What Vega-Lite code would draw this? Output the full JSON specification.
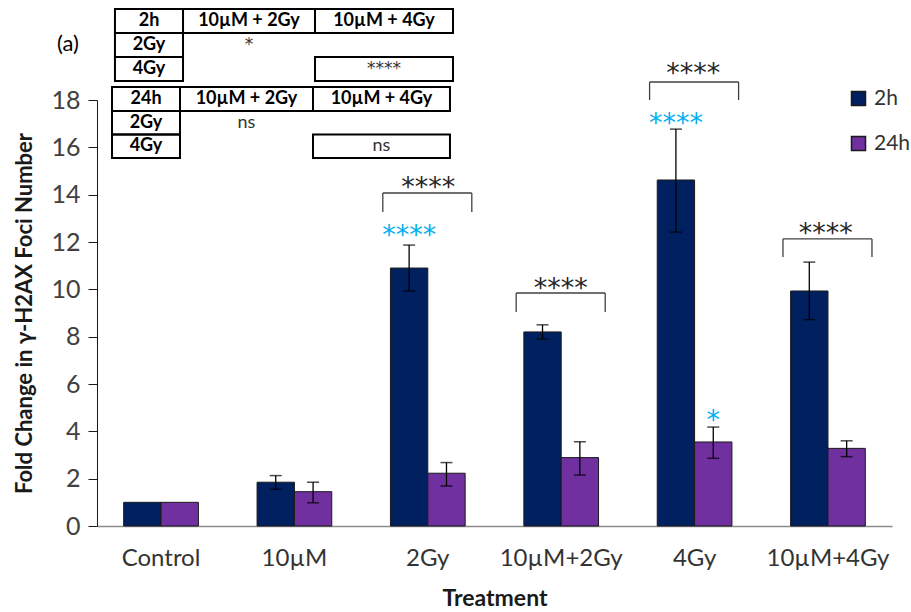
{
  "$schema": "https://vega.github.io/schema/vega-lite/v6.json",
  "width": 795,
  "height": 426,
  "autosize": "none",
  "padding": {"left": 97, "top": 100, "right": 19, "bottom": 86},
  "background": "white",
  "config": {"font": "Lato", "view": {"stroke": null}},
  "datasets": {
    "bars": [
      {"cat": "Control", "time": "2h", "value": 1.0},
      {"cat": "Control", "time": "24h", "value": 1.0},
      {"cat": "10µM", "time": "2h", "value": 1.85},
      {"cat": "10µM", "time": "24h", "value": 1.45},
      {"cat": "2Gy", "time": "2h", "value": 10.9},
      {"cat": "2Gy", "time": "24h", "value": 2.23},
      {"cat": "10µM+2Gy", "time": "2h", "value": 8.2},
      {"cat": "10µM+2Gy", "time": "24h", "value": 2.89},
      {"cat": "4Gy", "time": "2h", "value": 14.62},
      {"cat": "4Gy", "time": "24h", "value": 3.55},
      {"cat": "10µM+4Gy", "time": "2h", "value": 9.93},
      {"cat": "10µM+4Gy", "time": "24h", "value": 3.28}
    ],
    "errors": [
      {"cat": "10µM", "time": "2h", "lo": 1.55, "hi": 2.13},
      {"cat": "10µM", "time": "24h", "lo": 0.98, "hi": 1.85},
      {"cat": "2Gy", "time": "2h", "lo": 9.93, "hi": 11.87},
      {"cat": "2Gy", "time": "24h", "lo": 1.69, "hi": 2.68},
      {"cat": "10µM+2Gy", "time": "2h", "lo": 7.9, "hi": 8.5},
      {"cat": "10µM+2Gy", "time": "24h", "lo": 2.15, "hi": 3.56},
      {"cat": "4Gy", "time": "2h", "lo": 12.42, "hi": 16.77},
      {"cat": "4Gy", "time": "24h", "lo": 2.86, "hi": 4.18},
      {"cat": "10µM+4Gy", "time": "2h", "lo": 8.72, "hi": 11.15},
      {"cat": "10µM+4Gy", "time": "24h", "lo": 2.93, "hi": 3.6}
    ],
    "brackets": [
      {"cat": "2Gy", "top": 14.07, "bot": 13.27, "label": "****", "ylab": 13.94},
      {"cat": "10µM+2Gy", "top": 9.845, "bot": 9.04, "label": "****", "ylab": 9.68},
      {"cat": "4Gy", "top": 18.76, "bot": 18.0, "label": "****", "ylab": 18.76},
      {"cat": "10µM+4Gy", "top": 12.13, "bot": 11.37, "label": "****", "ylab": 12.0}
    ],
    "blue": [
      {"cat": "2Gy", "time": "2h", "label": "****", "ylab": 11.92},
      {"cat": "4Gy", "time": "2h", "label": "****", "ylab": 16.65},
      {"cat": "4Gy", "time": "24h", "label": "*", "ylab": 4.1}
    ],
    "cells": [
      {"x1": 2.26, "x2": 10.82, "y1": 21.845, "y2": 20.831},
      {"x1": 10.82, "x2": 27.42, "y1": 21.845, "y2": 20.831},
      {"x1": 27.42, "x2": 44.78, "y1": 21.845, "y2": 20.831},
      {"x1": 2.26, "x2": 10.82, "y1": 20.831, "y2": 19.817},
      {"x1": 2.26, "x2": 10.82, "y1": 19.817, "y2": 18.803},
      {"x1": 27.42, "x2": 44.78, "y1": 19.817, "y2": 18.803},
      {"x1": 1.89, "x2": 10.44, "y1": 18.549, "y2": 17.535},
      {"x1": 10.44, "x2": 27.17, "y1": 18.549, "y2": 17.535},
      {"x1": 27.17, "x2": 44.4, "y1": 18.549, "y2": 17.535},
      {"x1": 1.89, "x2": 10.44, "y1": 17.535, "y2": 16.542},
      {"x1": 1.89, "x2": 10.44, "y1": 16.542, "y2": 15.549},
      {"x1": 27.17, "x2": 44.4, "y1": 16.542, "y2": 15.549}
    ],
    "headers": [
      {"x": 6.54, "y": 21.338, "label": "2h"},
      {"x": 19.12, "y": 21.338, "label": "10µM + 2Gy"},
      {"x": 36.1, "y": 21.338, "label": "10µM + 4Gy"},
      {"x": 6.54, "y": 20.324, "label": "2Gy"},
      {"x": 6.54, "y": 19.31, "label": "4Gy"},
      {"x": 6.165, "y": 18.042, "label": "24h"},
      {"x": 18.805, "y": 18.042, "label": "10µM + 2Gy"},
      {"x": 35.785, "y": 18.042, "label": "10µM + 4Gy"},
      {"x": 6.165, "y": 17.038, "label": "2Gy"},
      {"x": 6.165, "y": 16.045, "label": "4Gy"}
    ],
    "body": [
      {"x": 18.805, "y": 17.038, "label": "ns"},
      {"x": 35.785, "y": 16.045, "label": "ns"}
    ],
    "stars": [
      {"x": 19.12, "y": 20.324, "label": "*"},
      {"x": 36.1, "y": 19.31, "label": "****"}
    ],
    "panel": [
      {"x": -3.65, "y": 20.37, "label": "(a)"}
    ]
  },
  "layer": [
    {
      "data": {"name": "bars"},
      "mark": {"type": "bar", "stroke": "#1a1a1a", "strokeWidth": 1},
      "encoding": {
        "x": {
          "field": "cat", "type": "nominal",
          "scale": {"domain": ["Control", "10µM", "2Gy", "10µM+2Gy", "4Gy", "10µM+4Gy"], "paddingInner": 0.44, "paddingOuter": 0.2},
          "axis": {"title": "Treatment", "labelAngle": 0, "ticks": false, "domainColor": "#8c8c8c", "domainWidth": 1.5, "labelFontSize": 24, "labelColor": "#333333", "labelPadding": 20, "titleFontSize": 23, "titleFontWeight": "bold", "titlePadding": 17, "titleColor": "#1a1a1a"}
        },
        "xOffset": {"field": "time", "type": "nominal", "scale": {"domain": ["2h", "24h"], "paddingInner": 0, "paddingOuter": 0}},
        "y": {
          "field": "value", "type": "quantitative",
          "scale": {"domain": [0, 18], "nice": false},
          "axis": {"values": [0, 2, 4, 6, 8, 10, 12, 14, 16, 18], "title": "Fold Change in γ-H2AX Foci Number", "titleFontSize": 22, "titleFontWeight": "bold", "titleColor": "#1a1a1a", "labelFontSize": 25, "labelColor": "#404040", "tickSize": 9, "tickColor": "#1a1a1a", "domainColor": "#1a1a1a", "labelPadding": 8, "titlePadding": 14, "grid": false}
        },
        "color": {
          "field": "time", "type": "nominal",
          "scale": {"domain": ["2h", "24h"], "range": ["#002060", "#7030A0"]},
          "legend": {"orient": "none", "legendX": 751, "legendY": -12, "title": null, "symbolType": "square", "symbolSize": 196, "symbolStrokeColor": "#1a1a1a", "symbolStrokeWidth": 1.5, "labelFontSize": 21, "labelColor": "#333333", "rowPadding": 23, "labelOffset": 5}
        }
      }
    },
    {
      "data": {"name": "errors"},
      "mark": {"type": "rule", "color": "#000000", "strokeWidth": 1.3},
      "encoding": {
        "x": {"field": "cat", "type": "nominal", "scale": {"domain": ["Control", "10µM", "2Gy", "10µM+2Gy", "4Gy", "10µM+4Gy"], "paddingInner": 0.44, "paddingOuter": 0.2}, "axis": null},
        "xOffset": {"field": "time", "type": "nominal", "scale": {"domain": ["2h", "24h"], "paddingInner": 0, "paddingOuter": 0}},
        "y": {"field": "lo", "type": "quantitative", "scale": {"domain": [0, 18], "nice": false}, "axis": null},
        "y2": {"field": "hi"}
      }
    },
    {
      "data": {"name": "errors"},
      "mark": {"type": "tick", "orient": "horizontal", "size": 12, "thickness": 1.5, "color": "#000000"},
      "encoding": {
        "x": {"field": "cat", "type": "nominal", "scale": {"domain": ["Control", "10µM", "2Gy", "10µM+2Gy", "4Gy", "10µM+4Gy"], "paddingInner": 0.44, "paddingOuter": 0.2}, "axis": null},
        "xOffset": {"field": "time", "type": "nominal", "scale": {"domain": ["2h", "24h"], "paddingInner": 0, "paddingOuter": 0}},
        "y": {"field": "lo", "type": "quantitative", "scale": {"domain": [0, 18], "nice": false}, "axis": null}
      }
    },
    {
      "data": {"name": "errors"},
      "mark": {"type": "tick", "orient": "horizontal", "size": 12, "thickness": 1.5, "color": "#000000"},
      "encoding": {
        "x": {"field": "cat", "type": "nominal", "scale": {"domain": ["Control", "10µM", "2Gy", "10µM+2Gy", "4Gy", "10µM+4Gy"], "paddingInner": 0.44, "paddingOuter": 0.2}, "axis": null},
        "xOffset": {"field": "time", "type": "nominal", "scale": {"domain": ["2h", "24h"], "paddingInner": 0, "paddingOuter": 0}},
        "y": {"field": "hi", "type": "quantitative", "scale": {"domain": [0, 18], "nice": false}, "axis": null}
      }
    },
    {
      "data": {"name": "brackets"},
      "mark": {"type": "rule", "color": "#404040", "strokeWidth": 1.3, "xOffset": -45, "x2Offset": 44},
      "encoding": {
        "x": {"field": "cat", "type": "nominal", "scale": {"domain": ["Control", "10µM", "2Gy", "10µM+2Gy", "4Gy", "10µM+4Gy"], "paddingInner": 0.44, "paddingOuter": 0.2}, "axis": null},
        "x2": {"field": "cat"},
        "y": {"field": "top", "type": "quantitative", "scale": {"domain": [0, 18], "nice": false}, "axis": null}
      }
    },
    {
      "data": {"name": "brackets"},
      "mark": {"type": "rule", "color": "#404040", "strokeWidth": 1.3, "xOffset": -45},
      "encoding": {
        "x": {"field": "cat", "type": "nominal", "scale": {"domain": ["Control", "10µM", "2Gy", "10µM+2Gy", "4Gy", "10µM+4Gy"], "paddingInner": 0.44, "paddingOuter": 0.2}, "axis": null},
        "y": {"field": "top", "type": "quantitative", "scale": {"domain": [0, 18], "nice": false}, "axis": null},
        "y2": {"field": "bot"}
      }
    },
    {
      "data": {"name": "brackets"},
      "mark": {"type": "rule", "color": "#404040", "strokeWidth": 1.3, "xOffset": 44},
      "encoding": {
        "x": {"field": "cat", "type": "nominal", "scale": {"domain": ["Control", "10µM", "2Gy", "10µM+2Gy", "4Gy", "10µM+4Gy"], "paddingInner": 0.44, "paddingOuter": 0.2}, "axis": null},
        "y": {"field": "top", "type": "quantitative", "scale": {"domain": [0, 18], "nice": false}, "axis": null},
        "y2": {"field": "bot"}
      }
    },
    {
      "data": {"name": "brackets"},
      "mark": {"type": "text", "font": "DejaVu Sans", "fontSize": 27, "color": "#262626", "baseline": "alphabetic", "align": "center"},
      "encoding": {
        "x": {"field": "cat", "type": "nominal", "scale": {"domain": ["Control", "10µM", "2Gy", "10µM+2Gy", "4Gy", "10µM+4Gy"], "paddingInner": 0.44, "paddingOuter": 0.2}, "axis": null},
        "y": {"field": "ylab", "type": "quantitative", "scale": {"domain": [0, 18], "nice": false}, "axis": null},
        "text": {"field": "label"}
      }
    },
    {
      "data": {"name": "blue"},
      "mark": {"type": "text", "font": "DejaVu Sans", "fontSize": 27, "color": "#00B0F0", "baseline": "alphabetic", "align": "center"},
      "encoding": {
        "x": {"field": "cat", "type": "nominal", "scale": {"domain": ["Control", "10µM", "2Gy", "10µM+2Gy", "4Gy", "10µM+4Gy"], "paddingInner": 0.44, "paddingOuter": 0.2}, "axis": null},
        "xOffset": {"field": "time", "type": "nominal", "scale": {"domain": ["2h", "24h"], "paddingInner": 0, "paddingOuter": 0}},
        "y": {"field": "ylab", "type": "quantitative", "scale": {"domain": [0, 18], "nice": false}, "axis": null},
        "text": {"field": "label"}
      }
    },
    {
      "data": {"name": "cells"},
      "mark": {"type": "rect", "fillOpacity": 0, "fill": "white", "stroke": "#000000", "strokeWidth": 2},
      "encoding": {
        "x": {"field": "x1", "type": "quantitative", "scale": {"domain": [0, 100], "nice": false, "zero": false}, "axis": null},
        "x2": {"field": "x2"},
        "y": {"field": "y1", "type": "quantitative", "scale": {"domain": [0, 18], "nice": false}, "axis": null},
        "y2": {"field": "y2"}
      }
    },
    {
      "data": {"name": "headers"},
      "mark": {"type": "text", "fontSize": 18, "fontWeight": "bold", "color": "#000000", "baseline": "middle", "align": "center"},
      "encoding": {
        "x": {"field": "x", "type": "quantitative", "scale": {"domain": [0, 100], "nice": false, "zero": false}, "axis": null},
        "y": {"field": "y", "type": "quantitative", "scale": {"domain": [0, 18], "nice": false}, "axis": null},
        "text": {"field": "label"}
      }
    },
    {
      "data": {"name": "body"},
      "mark": {"type": "text", "fontSize": 18, "color": "#333333", "baseline": "middle", "align": "center"},
      "encoding": {
        "x": {"field": "x", "type": "quantitative", "scale": {"domain": [0, 100], "nice": false, "zero": false}, "axis": null},
        "y": {"field": "y", "type": "quantitative", "scale": {"domain": [0, 18], "nice": false}, "axis": null},
        "text": {"field": "label"}
      }
    },
    {
      "data": {"name": "stars"},
      "mark": {"type": "text", "font": "DejaVu Sans", "fontSize": 17, "color": "#333333", "baseline": "middle", "align": "center"},
      "encoding": {
        "x": {"field": "x", "type": "quantitative", "scale": {"domain": [0, 100], "nice": false, "zero": false}, "axis": null},
        "y": {"field": "y", "type": "quantitative", "scale": {"domain": [0, 18], "nice": false}, "axis": null},
        "text": {"field": "label"}
      }
    },
    {
      "data": {"name": "panel"},
      "mark": {"type": "text", "fontSize": 22, "color": "#000000", "baseline": "middle", "align": "center"},
      "encoding": {
        "x": {"field": "x", "type": "quantitative", "scale": {"domain": [0, 100], "nice": false, "zero": false}, "axis": null},
        "y": {"field": "y", "type": "quantitative", "scale": {"domain": [0, 18], "nice": false}, "axis": null},
        "text": {"field": "label"}
      }
    }
  ],
  "resolve": {"scale": {"x": "independent", "y": "independent"}}
}
